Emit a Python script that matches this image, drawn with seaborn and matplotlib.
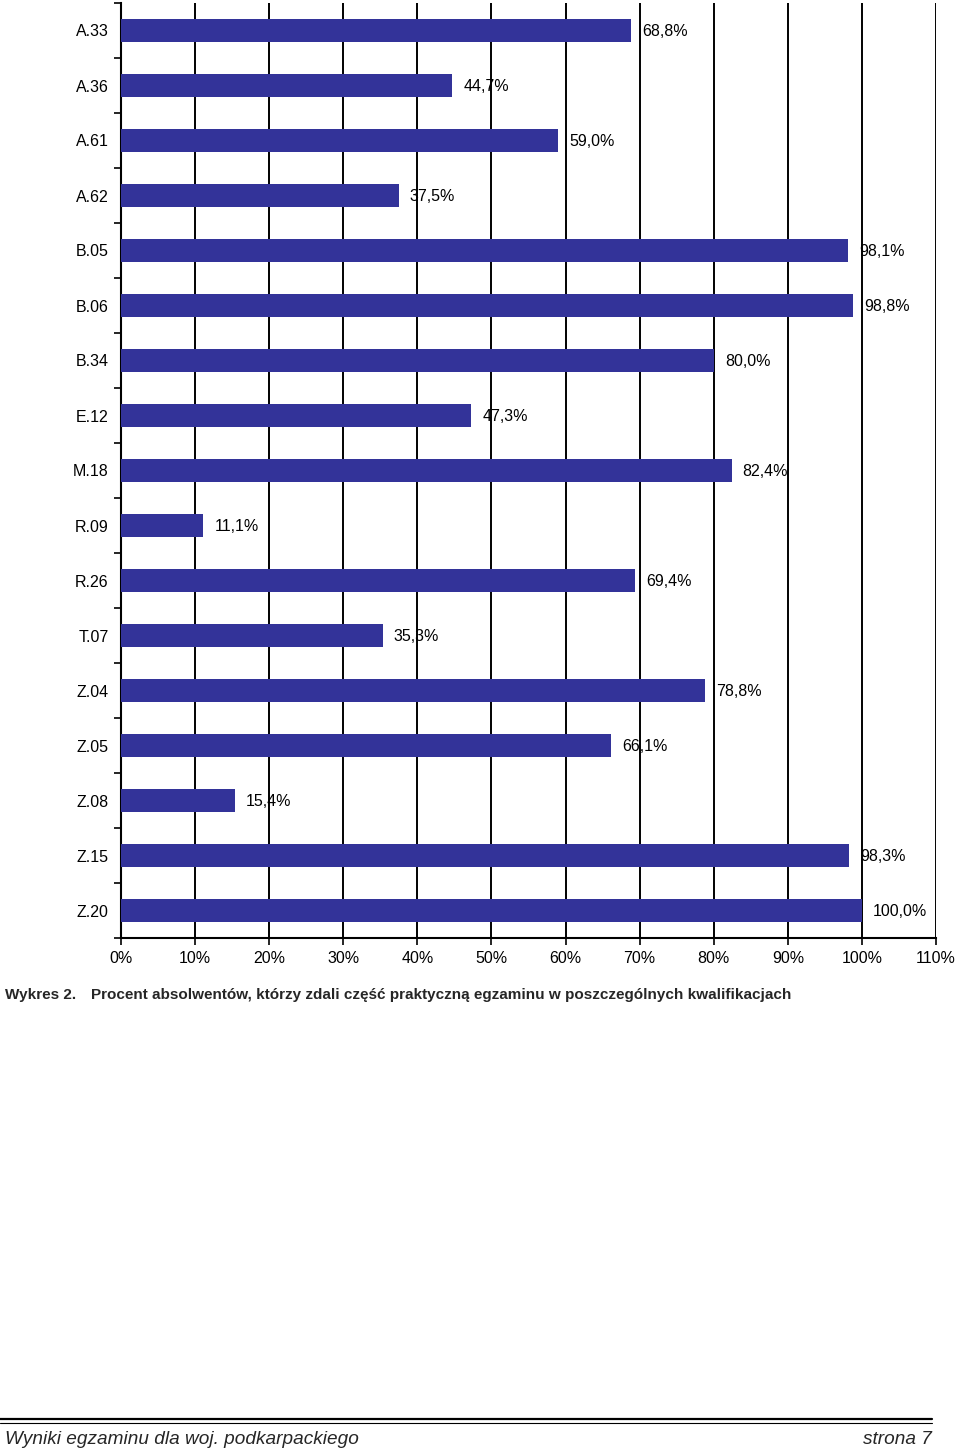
import matplotlib
matplotlib.use("Agg")
import matplotlib.pyplot as plt
import pandas as pd
import seaborn as sns
from matplotlib.lines import Line2D
from matplotlib.ticker import FixedLocator

categories = [
    "A.33", "A.36", "A.61", "A.62", "B.05", "B.06", "B.34", "E.12", "M.18",
    "R.09", "R.26", "T.07", "Z.04", "Z.05", "Z.08", "Z.15", "Z.20",
]
values = [
    68.8, 44.7, 59.0, 37.5, 98.1, 98.8, 80.0, 47.3, 82.4,
    11.1, 69.4, 35.3, 78.8, 66.1, 15.4, 98.3, 100.0,
]
x_ticks = list(range(0, 111, 10))

caption_num = "Wykres 2."
caption = ("Procent absolwentów, którzy zdali część praktyczną egzaminu "
           "w poszczególnych kwalifikacjach")
footer_left = "Wyniki egzaminu dla woj. podkarpackiego"
footer_right = "strona 7"

sns.set_theme(style="white")
plt.rcParams["font.family"] = ["Liberation Sans", "DejaVu Sans"]

df = pd.DataFrame({"kod": categories, "procent": values})

fig = plt.figure(figsize=(9.6, 14.51), dpi=100)
ax = fig.add_axes([121 / 960, 1 - 938 / 1451, (936 - 121) / 960, 935 / 1451])

sns.barplot(data=df, x="procent", y="kod", orient="h", color="#333399",
            saturation=1, width=0.43, linewidth=0, ax=ax, zorder=3)

ax.set_xlim(0, 110)
ax.set_ylim(len(categories) - 0.5, -0.5)
ax.set_xticks(x_ticks)
ax.set_xticklabels([f"{t}%" for t in x_ticks])
ax.xaxis.grid(True, color="black", linewidth=1.4)
ax.set_axisbelow(True)
ax.yaxis.set_minor_locator(FixedLocator([i - 0.5 for i in range(len(categories) + 1)]))
ax.tick_params(axis="y", which="major", length=0, pad=9, labelsize=11.5)
ax.tick_params(axis="y", which="minor", left=True, length=5, width=1.2, color="black")
ax.tick_params(axis="x", bottom=True, length=5, width=1.2, color="black",
               labelsize=11.5, pad=4)
ax.set_xlabel("")
ax.set_ylabel("")
for side in ["top", "right"]:
    ax.spines[side].set_visible(False)
for side in ["left", "bottom"]:
    ax.spines[side].set_color("black")
    ax.spines[side].set_linewidth(1.5)
for lbl in ax.get_yticklabels() + ax.get_xticklabels():
    lbl.set_color("black")

for i, v in enumerate(values):
    ax.annotate(f"{v:.1f}%".replace(".", ","), xy=(v, i), xytext=(8, -1),
                textcoords="offset points", va="center", ha="left",
                fontsize=11.5, color="black", zorder=4)

fig.text(5 / 960, 1 - 995 / 1451, caption_num, fontsize=11,
         fontweight="bold", va="center", ha="left")
fig.text(91 / 960, 1 - 995 / 1451, caption, fontsize=11,
         fontweight="bold", va="center", ha="left")

for yy, lw in [(1419, 1.6), (1423, 0.8)]:
    fig.add_artist(Line2D([0, 932 / 960], [1 - yy / 1451] * 2,
                          color="black", linewidth=lw, transform=fig.transFigure))
fig.text(5 / 960, 1 - 1440 / 1451, footer_left, fontsize=13.7, style="italic",
         va="center", ha="left")
fig.text(932 / 960, 1 - 1440 / 1451, footer_right, fontsize=13.7, style="italic",
         va="center", ha="right")

fig.savefig("out.png", dpi=100, facecolor="white")
